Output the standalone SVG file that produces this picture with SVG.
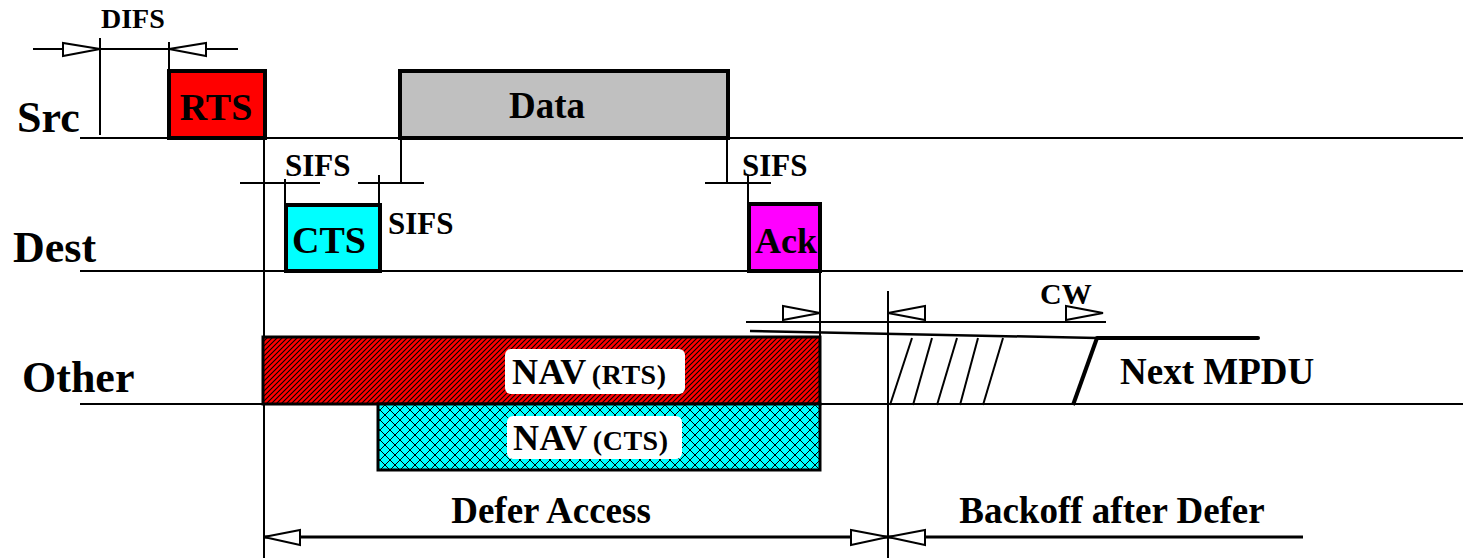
<svg xmlns="http://www.w3.org/2000/svg" width="1463" height="558" viewBox="0 0 1463 558">
<defs>
<style>
.t{font-family:"Liberation Serif","Times New Roman",serif;font-weight:bold;fill:#000}
.ln{stroke:#000;stroke-width:2;fill:none}
.bx{stroke:#000;stroke-width:4}
.ah{fill:#fff;stroke:#000;stroke-width:2}
.nav{font-size:36px;letter-spacing:0.5px}
.sub{font-size:28px;letter-spacing:0.5px}
</style>
<pattern id="hatch" width="5" height="5" patternUnits="userSpaceOnUse">
<rect width="5" height="5" fill="#ff0000"/>
<path d="M-1,6 L6,-1 M-3.5,3.5 L3.5,-3.5 M1.5,8.5 L8.5,1.5" stroke="#000" stroke-width="1.1"/>
</pattern>
<pattern id="cross" width="10" height="10" patternUnits="userSpaceOnUse">
<rect width="10" height="10" fill="#00ffff"/>
<path d="M0,0 L10,10 M10,0 L0,10" stroke="#000" stroke-width="1"/>
</pattern>
</defs>
<rect width="1463" height="558" fill="#fff"/>

<g id="timelines">
<line class="ln" x1="80" y1="138" x2="1463" y2="138"/>
<line class="ln" x1="80" y1="271" x2="1463" y2="271"/>
<line class="ln" x1="80" y1="404" x2="1463" y2="404"/>
<text class="t" x="17" y="132" font-size="44">Src</text>
<text class="t" x="13" y="262" font-size="44">Dest</text>
<text class="t" x="22" y="392" font-size="44">Other</text>
</g>

<g id="connectors">
<!-- DIFS -->
<line class="ln" x1="33" y1="49" x2="238" y2="49"/>
<line class="ln" x1="100" y1="38" x2="100" y2="135"/>
<line class="ln" x1="169" y1="42" x2="169" y2="72"/>
<polygon class="ah" points="63,43 63,56 100,49"/>
<polygon class="ah" points="169,49 206,43 206,56"/>
<!-- SIFS after RTS -->
<line class="ln" x1="264" y1="138" x2="264" y2="558"/>
<line class="ln" x1="240" y1="183" x2="320" y2="183"/>
<line class="ln" x1="285" y1="179" x2="285" y2="206"/>
<!-- SIFS after CTS -->
<line class="ln" x1="358" y1="183" x2="424" y2="183"/>
<line class="ln" x1="379" y1="175" x2="379" y2="206"/>
<line class="ln" x1="401" y1="138" x2="401" y2="183"/>
<!-- SIFS after Data -->
<line class="ln" x1="705" y1="183" x2="771" y2="183"/>
<line class="ln" x1="727" y1="138" x2="727" y2="183"/>
<line class="ln" x1="748" y1="175" x2="748" y2="206"/>
<line class="ln" x1="820" y1="271" x2="820" y2="337"/>
<!-- CW -->
<line class="ln" x1="746" y1="322" x2="1106" y2="322"/>
<polygon class="ah" points="783,306 783,320 820,313"/>
<line class="ln" x1="888" y1="291" x2="888" y2="558"/>
<polygon class="ah" points="888,313 925,306 925,320"/>
<polygon class="ah" points="1066,306 1066,320 1103,313"/>
<polyline points="750,331 1097,338" stroke="#000" stroke-width="2.5" fill="none"/>
<polyline points="1097,338 1258,338" stroke="#000" stroke-width="4" fill="none" stroke-linecap="round"/>
<!-- backoff slots -->
<line class="ln" x1="890" y1="405" x2="912" y2="338"/>
<line class="ln" x1="913" y1="405" x2="932" y2="338"/>
<line class="ln" x1="937" y1="405" x2="957" y2="338"/>
<line class="ln" x1="960" y1="405" x2="978" y2="338"/>
<line class="ln" x1="983" y1="405" x2="1003" y2="338"/>
<line x1="1073" y1="405" x2="1097" y2="338" stroke="#000" stroke-width="4"/>
<!-- Defer / Backoff -->
<line x1="264" y1="537" x2="888" y2="537" stroke="#000" stroke-width="3"/>
<polygon class="ah" points="264,537 300,530 300,545"/>
<polygon class="ah" points="851,530 851,545 888,537"/>
<line x1="888" y1="537" x2="1303" y2="537" stroke="#000" stroke-width="3"/>
<polygon class="ah" points="888,537 925,530 925,545"/>
</g>

<g id="labels">
<text class="t" x="101" y="28" font-size="28">DIFS</text>
<text class="t" x="285" y="176" font-size="31">SIFS</text>
<text class="t" x="388" y="234" font-size="31">SIFS</text>
<text class="t" x="742" y="176" font-size="31">SIFS</text>
<text class="t" x="1040" y="304" font-size="30">CW</text>
<text class="t" x="1120" y="384" font-size="37">Next MPDU</text>
<text class="t" x="551" y="523" font-size="37" text-anchor="middle">Defer Access</text>
<text class="t" x="1112" y="523" font-size="37" text-anchor="middle">Backoff after Defer</text>
</g>

<g id="rts">
<rect class="bx" x="169" y="71" width="96" height="67" fill="#ff0000"/>
<text class="t" x="216" y="120" font-size="38" text-anchor="middle">RTS</text>
</g>
<g id="data">
<rect class="bx" x="400" y="71" width="328" height="67" fill="#c0c0c0"/>
<text class="t" x="547" y="118" font-size="37" text-anchor="middle">Data</text>
</g>
<g id="cts">
<rect class="bx" x="286" y="205" width="94" height="66" fill="#00ffff"/>
<text class="t" x="329" y="253" font-size="38" text-anchor="middle">CTS</text>
</g>
<g id="ack">
<rect class="bx" x="749" y="204" width="71" height="67" fill="#ff00ff"/>
<text class="t" x="786" y="253" font-size="36" text-anchor="middle">Ack</text>
</g>
<g id="nav-rts">
<rect x="263" y="337" width="557" height="67" fill="url(#hatch)" stroke="#000" stroke-width="3"/>
<rect x="505" y="349" width="180" height="45" rx="6" fill="#fff"/>
<text class="t" x="512" y="384"><tspan class="nav">NAV</tspan><tspan class="sub" dx="5">(RTS)</tspan></text>
</g>
<g id="nav-cts">
<rect x="378" y="404" width="442" height="66" fill="url(#cross)" stroke="#000" stroke-width="3"/>
<rect x="507" y="416" width="175" height="43" rx="6" fill="#fff"/>
<text class="t" x="513" y="450"><tspan class="nav">NAV</tspan><tspan class="sub" dx="5">(CTS)</tspan></text>
</g>
</svg>
